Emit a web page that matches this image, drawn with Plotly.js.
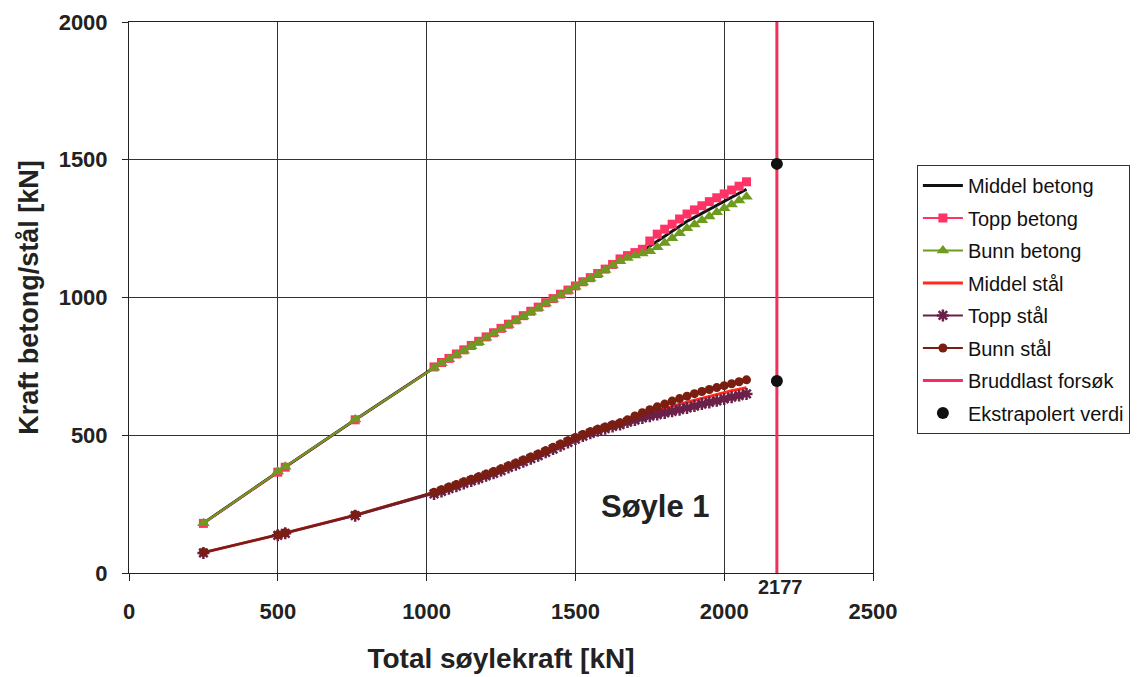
<!DOCTYPE html>
<html>
<head>
<meta charset="utf-8">
<script src="https://cdn.plot.ly/plotly-3.0.1.min.js"></script>
<style>html,body{margin:0;padding:0;background:#fff;}#chart{width:1148px;height:677px;}</style>
</head>
<body>
<div id="chart"></div>
<script>
// Total column force [kN]
const totalForce = [250, 500, 525, 760,
  1025, 1050, 1075, 1100, 1125, 1150, 1175, 1200, 1225, 1250, 1275, 1300, 1325, 1350, 1375, 1400,
  1425, 1450, 1475, 1500, 1525, 1550, 1575, 1600, 1625, 1650, 1675, 1700, 1725, 1750, 1775, 1800,
  1825, 1850, 1875, 1900, 1925, 1950, 1975, 2000, 2025, 2050, 2075];

const middelBetong = [181, 367, 385, 556,
  747, 763, 778, 794, 809, 825, 840, 856, 871, 887, 902, 918, 933, 949, 964, 980,
  995, 1011, 1026, 1041, 1056, 1071, 1086, 1102, 1118, 1135, 1148, 1158, 1168, 1186, 1206, 1223,
  1240, 1259, 1277, 1291, 1306, 1321, 1335, 1350, 1364, 1378, 1393];

const toppBetong = [180, 366, 384, 556,
  748, 764, 779, 795, 810, 826, 841, 857, 872, 888, 903, 919, 934, 950, 965, 981,
  996, 1012, 1027, 1042, 1057, 1072, 1087, 1103, 1120, 1140, 1152, 1163, 1175, 1205, 1230, 1248,
  1266, 1285, 1303, 1318, 1333, 1348, 1362, 1376, 1390, 1404, 1420];

const bunnBetong = [181, 368, 386, 557,
  745, 761, 776, 792, 807, 823, 838, 854, 869, 885, 900, 916, 931, 947, 962, 978,
  993, 1009, 1024, 1039, 1054, 1069, 1084, 1100, 1116, 1132, 1143, 1152, 1160, 1168, 1182, 1198,
  1215, 1233, 1251, 1265, 1280, 1294, 1309, 1324, 1338, 1352, 1366];

const middelStal = [74, 138, 145, 210,
  290, 299, 309, 318, 328, 337, 346, 356, 365, 375, 386, 396, 407, 418, 429, 441,
  453, 465, 477, 489, 500, 510, 519, 527, 535, 542, 552, 562, 572, 580, 588, 597,
  605, 613, 620, 627, 634, 641, 649, 656, 662, 667, 673];

const toppStal = [73, 137, 144, 208,
  287, 296, 306, 315, 325, 334, 343, 353, 362, 372, 383, 393, 404, 415, 426, 438,
  450, 462, 474, 486, 497, 507, 516, 524, 532, 539, 548, 555, 563, 569, 575, 581,
  587, 593, 599, 606, 613, 619, 625, 632, 638, 644, 650];

const bunnStal = [75, 139, 146, 211,
  293, 302, 312, 321, 331, 340, 349, 359, 368, 378, 389, 399, 410, 421, 432, 444,
  456, 468, 480, 492, 503, 513, 522, 530, 538, 545, 556, 570, 582, 593, 603, 613,
  624, 633, 642, 651, 659, 666, 673, 680, 687, 694, 701];

const bruddlastX = [2177, 2177];
const bruddlastY = [0, 2000];

const ekstraX = [2177, 2177];
const ekstraY = [1485, 697];

const seriesNames = ["Middel betong", "Topp betong", "Bunn betong", "Middel stål", "Topp stål",
  "Bunn stål", "Bruddlast forsøk", "Ekstrapolert verdi"];

const xTicks = [0, 500, 1000, 1500, 2000, 2500];
const yTicks = [0, 500, 1000, 1500, 2000];

const traces = [
  {x: totalForce, y: middelBetong, name: seriesNames[0], legendgroup: "g0", mode: "lines",
   line: {color: "#111111", width: 3}},
  {x: totalForce, y: toppBetong, name: seriesNames[1], legendgroup: "g1", mode: "lines+markers",
   line: {color: "#FF3366", width: 2}, marker: {symbol: "square", size: 9, color: "#FF3366"}},
  {x: totalForce, y: bunnBetong, name: seriesNames[2], legendgroup: "g2", mode: "lines+markers",
   line: {color: "#6E9B1F", width: 2}, marker: {symbol: "triangle-up", size: 11, color: "#6E9B1F"}},
  {x: totalForce, y: middelStal, name: seriesNames[3], legendgroup: "g3", mode: "lines",
   line: {color: "#FF2A1A", width: 3}},
  {x: totalForce, y: toppStal, name: seriesNames[4], legendgroup: "g4", mode: "lines+markers",
   line: {color: "#6A2048", width: 2}, marker: {symbol: "asterisk-open", size: 10, color: "#6A2048", line: {color: "#6A2048", width: 2.5}}},
  {x: totalForce, y: bunnStal, name: seriesNames[5], legendgroup: "g5", mode: "lines+markers",
   line: {color: "#7A1E12", width: 2}, marker: {symbol: "circle", size: 9, color: "#7A1E12"}},
  {x: bruddlastX, y: bruddlastY, name: seriesNames[6], legendgroup: "g6", mode: "lines",
   line: {color: "#F0305C", width: 3}},
  {x: ekstraX, y: ekstraY, name: seriesNames[7], legendgroup: "g7", mode: "markers",
   marker: {symbol: "circle", size: 12, color: "#111111"}}
];

const fontFam = "Liberation Sans, Arial, sans-serif";

const layout = {
  width: 1148, height: 677,
  margin: {l: 129, r: 275, t: 22, b: 104},
  paper_bgcolor: "#ffffff", plot_bgcolor: "#ffffff",
  font: {family: fontFam, color: "#222222"},
  showlegend: true,
  legend: {
    x: 1.059, y: 0.7405, xanchor: "left", yanchor: "top",
    bordercolor: "#333333", borderwidth: 1, bgcolor: "#ffffff",
    font: {family: fontFam, size: 20, color: "#111111"},
    tracegroupgap: 3.5, itemwidth: 40
  },
  xaxis: {
    range: [0, 2500], tickvals: xTicks, ticktext: xTicks.map(String),
    showline: true, linecolor: "#222222", linewidth: 1, mirror: true,
    showgrid: true, gridcolor: "#333333", gridwidth: 1, zeroline: false,
    ticks: "outside", ticklen: 7, tickcolor: "#222222",
    ticklabelstandoff: 12,
    tickfont: {family: fontFam, size: 22, color: "#222222", weight: "bold"},
    title: {text: "<b>Total søylekraft [kN]</b>", font: {family: fontFam, size: 28, color: "#222222"}, standoff: 24}
  },
  yaxis: {
    range: [0, 2000], tickvals: yTicks, ticktext: yTicks.map(String),
    showline: true, linecolor: "#222222", linewidth: 1, mirror: true,
    showgrid: true, gridcolor: "#333333", gridwidth: 1, zeroline: false,
    ticks: "outside", ticklen: 6, tickcolor: "#222222",
    ticklabelstandoff: 10,
    tickfont: {family: fontFam, size: 22, color: "#222222", weight: "bold"},
    title: {text: "<b>Kraft betong/stål [kN]</b>", font: {family: fontFam, size: 27, color: "#222222"}, standoff: 12}
  },
  annotations: [
    {x: 1770, y: 240, xref: "x", yref: "y", text: "<b>Søyle 1</b>", showarrow: false,
     font: {family: fontFam, size: 31, color: "#222222"}},
    {x: 2190, y: 0, xref: "x", yref: "paper", yanchor: "top", yshift: -1, text: "<b>2177</b>", showarrow: false,
     font: {family: fontFam, size: 20, color: "#222222"}}
  ]
};

Plotly.newPlot("chart", traces, layout, {displayModeBar: false, staticPlot: true});
</script>
</body>
</html>
